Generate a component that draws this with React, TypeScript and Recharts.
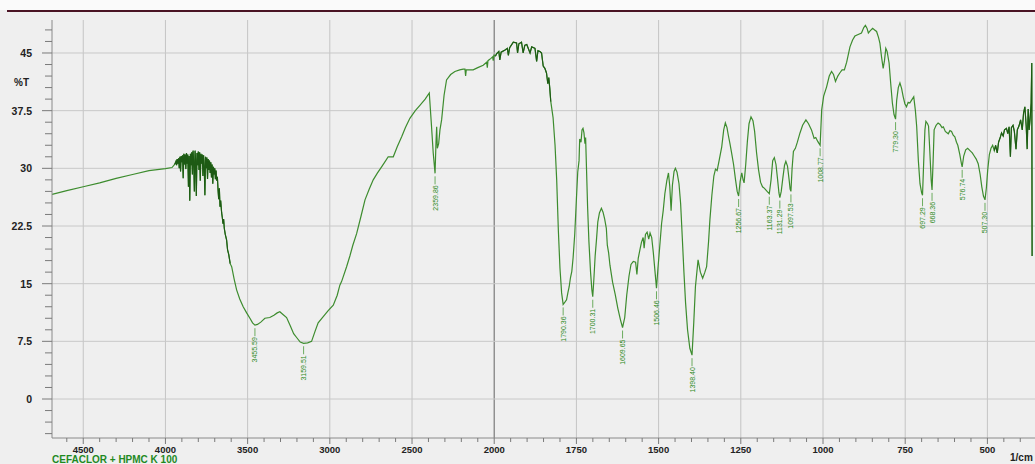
import { ComposedChart, Line, Scatter, XAxis, YAxis, ReferenceLine } from 'recharts';

type Pt = [number, number];

// wavenumber (1/cm), %T
const BASELINE: Pt[] = [
  [4690, 26.6], [4600, 27.1], [4500, 27.6], [4400, 28.1], [4300, 28.7], [4200, 29.2], [4100, 29.7],
  [4000, 29.95], [3960, 30.1], [3944, 30.5],
];

const WATER_VAPOUR: Pt[] = [
  [3940, 30.7], [3936, 30.9], [3932, 30.4], [3928, 31.2], [3924, 30.6], [3920, 31.3], [3916, 30.0],
  [3912, 31.5], [3908, 29.6], [3904, 31.6], [3900, 30.8], [3896, 31.7], [3892, 28.7], [3888, 31.9],
  [3884, 30.5], [3880, 31.8], [3876, 29.9], [3872, 32.0], [3868, 30.6], [3864, 31.8], [3860, 27.6],
  [3856, 31.6], [3852, 25.8], [3848, 31.9], [3844, 30.4], [3840, 32.1], [3836, 29.2], [3832, 32.3],
  [3828, 30.8], [3824, 27.0], [3820, 32.3], [3816, 31.0], [3812, 26.4], [3808, 32.0], [3804, 30.4],
  [3800, 32.2], [3796, 29.8], [3792, 32.1], [3788, 28.4], [3784, 31.9], [3780, 30.6], [3776, 31.8],
  [3772, 29.0], [3768, 31.7], [3764, 30.2], [3760, 26.5], [3756, 31.5], [3752, 30.0], [3748, 31.4],
  [3744, 28.6], [3740, 31.2], [3736, 29.8], [3732, 31.0], [3728, 29.4], [3724, 30.8], [3720, 28.8],
  [3716, 30.5], [3712, 28.0], [3708, 30.2], [3704, 29.2], [3700, 30.0], [3696, 28.6], [3692, 29.7],
  [3688, 28.4],
];

const OH_BAND: Pt[] = [
  [3684, 28.9], [3680, 27.2], [3676, 26.0], [3672, 27.4], [3668, 25.0], [3664, 25.8], [3658, 24.2],
  [3654, 23.6], [3650, 22.8], [3646, 23.4], [3642, 22.2], [3636, 21.4], [3628, 20.7], [3622, 19.4],
  [3615, 18.8], [3606, 17.6], [3597, 17.2], [3582, 15.6], [3567, 14.2], [3548, 13.0], [3527, 12.0],
  [3506, 11.2], [3486, 10.5], [3470, 9.9], [3455.59, 9.6], [3440, 9.7], [3420, 10.0], [3395, 10.5],
  [3365, 10.6], [3340, 10.9], [3320, 11.2], [3304, 11.35], [3285, 11.0], [3263, 10.6], [3240, 9.5],
  [3220, 8.5], [3202, 8.0], [3180, 7.4], [3159.51, 7.25], [3135, 7.3], [3111, 7.5], [3090, 8.8],
  [3071, 9.9], [3040, 10.7], [3010, 11.5], [2979, 12.2], [2955, 13.5], [2939, 14.8], [2928, 15.3],
  [2898, 17.2], [2878, 18.6], [2860, 20.0], [2837, 21.5], [2810, 23.8], [2786, 25.9], [2760, 27.3],
  [2736, 28.5], [2710, 29.4], [2685, 30.2], [2660, 31.0], [2645, 31.5], [2614, 31.5], [2590, 32.8],
  [2563, 34.1], [2540, 35.3], [2513, 36.5], [2480, 37.5], [2452, 38.2], [2420, 39.0], [2395, 39.8],
  [2383, 36.0], [2371, 32.0], [2359.86, 29.35], [2354, 33.5], [2350, 35.4], [2346, 32.6], [2338, 33.2],
  [2330, 35.0], [2320, 36.3], [2305, 39.5], [2290, 41.5], [2265, 42.2], [2239, 42.6], [2210, 42.8],
  [2189, 42.9], [2178, 42.9], [2174, 42.0], [2170, 42.8], [2128, 42.8], [2100, 43.1], [2067, 43.4],
  [2046, 43.8], [2042, 43.1], [2038, 44.0], [2020, 44.3], [2010, 44.5], [2006, 44.0], [2002, 44.7],
];

const CARBONYL: Pt[] = [
  [1996, 44.6], [1993, 44.9], [1986, 45.2], [1983, 44.1], [1979, 45.1], [1967, 45.4], [1960, 45.6],
  [1957, 44.7], [1953, 45.7], [1942, 46.4], [1932, 46.3], [1929, 45.0], [1925, 46.2], [1917, 46.4],
  [1912, 45.0], [1907, 46.0], [1901, 46.1], [1891, 45.0], [1886, 45.8], [1876, 45.6], [1871, 43.9],
  [1867, 45.3], [1861, 45.2], [1856, 45.0], [1851, 43.3], [1846, 43.0], [1841, 42.4], [1837, 41.0],
  [1834, 41.8], [1831, 40.4], [1828, 38.7], [1821, 36.6], [1815, 33.0], [1810, 28.5], [1805, 22.0],
  [1800, 17.0], [1795, 13.8], [1790.36, 12.3], [1785, 12.6], [1780, 12.9], [1776, 13.8], [1772, 14.6],
  [1768, 15.8], [1764, 16.6], [1760, 18.4], [1755, 21.5], [1750, 26.0], [1746, 29.5], [1742, 31.0],
  [1740, 33.8], [1736, 33.4], [1733, 35.0], [1730, 35.2], [1727, 34.6], [1724, 33.2], [1722, 34.0],
  [1719, 29.5], [1716, 25.0], [1712, 20.5], [1707, 16.5], [1703, 14.2], [1700.31, 13.3], [1697, 15.5],
  [1693, 18.6], [1689, 20.7], [1685, 23.0], [1680, 24.2], [1674, 24.8], [1669, 24.3], [1664, 23.4],
  [1659, 22.2], [1656, 20.0], [1652, 19.0], [1648, 17.4], [1640, 15.2], [1632, 13.6], [1624, 11.8],
  [1616, 10.3], [1609.65, 9.3], [1603, 10.6], [1597, 13.5], [1590, 16.0], [1584, 17.5], [1577, 17.9],
  [1570, 17.8], [1566, 16.2], [1562, 18.3], [1556, 19.6], [1552, 20.4], [1547, 21.0], [1544, 19.6],
  [1540, 21.4], [1535, 21.7], [1530, 20.8], [1526, 21.6], [1521, 21.0], [1516, 19.0], [1511, 16.6],
  [1506.46, 14.4], [1502, 17.0], [1497, 19.6], [1491, 22.8], [1486, 24.5], [1481, 26.7], [1475, 28.4],
  [1470, 29.4], [1466, 27.6], [1462, 24.5], [1458, 27.8], [1453, 29.6], [1449, 30.0], [1444, 29.5],
  [1438, 28.0], [1433, 25.4], [1428, 21.0], [1423, 16.5], [1418, 12.5], [1412, 9.0], [1405, 6.6],
  [1398.4, 5.7], [1393, 10.0], [1388, 14.6], [1380, 18.1], [1373, 16.5], [1366, 15.7], [1360, 16.4],
  [1354, 17.2], [1348, 20.5], [1344, 23.3], [1338, 26.5], [1332, 29.0], [1327, 29.9], [1322, 29.7],
  [1316, 31.0], [1308, 32.8], [1302, 35.0], [1297, 35.9], [1292, 35.3], [1288, 34.3], [1283, 33.2],
  [1278, 32.0], [1272, 30.5], [1266, 28.5], [1261, 27.0],
];

const FINGERPRINT: Pt[] = [
  [1256.67, 26.4], [1252, 28.3], [1247, 29.4], [1243, 28.5], [1240, 28.1], [1235, 30.5], [1230, 33.5],
  [1225, 35.8], [1219, 36.7], [1213, 36.2], [1208, 34.8], [1202, 32.0], [1196, 29.8], [1190, 28.2],
  [1184, 27.6], [1178, 27.4], [1170, 27.0], [1163.37, 26.7], [1158, 28.5], [1153, 31.0], [1148, 31.4],
  [1143, 30.5], [1138, 28.5], [1134, 26.8], [1131.29, 26.2], [1127, 27.0], [1122, 28.8], [1117, 30.4],
  [1113, 30.9], [1108, 30.3], [1103, 28.5], [1100, 27.3], [1097.53, 27.0], [1094, 30.0], [1090, 32.2],
  [1084, 32.6], [1078, 33.4], [1070, 34.6], [1062, 35.6], [1052, 36.3], [1044, 35.8], [1035, 35.0],
  [1027, 33.9], [1022, 34.0], [1016, 33.5], [1008.77, 33.0], [1004, 37.6], [998, 39.4], [989, 40.6],
  [981, 42.0], [974, 42.6], [968, 42.2], [962, 41.3], [955, 42.0], [949, 42.4], [942, 42.8], [935, 42.8],
  [928, 43.8], [918, 45.8], [910, 46.7], [903, 47.2], [893, 47.4], [883, 47.6], [876, 48.3], [871, 48.6],
  [866, 48.2], [862, 47.6], [856, 47.9], [849, 48.2], [843, 48.0], [837, 47.8], [831, 47.0], [827, 46.3],
  [822, 44.5], [817, 43.0], [813, 44.0], [809, 45.6], [805, 45.2], [799, 43.7], [794, 41.0], [789, 38.5],
  [784, 37.0], [779.3, 36.4], [776, 38.8], [771, 40.5], [766, 41.1], [761, 40.4], [756, 39.3], [751, 38.4],
  [746, 38.0], [741, 38.6], [736, 38.5], [730, 38.9], [724, 39.3], [719, 37.5], [715, 35.4], [710, 31.0],
  [705, 28.0], [700, 26.8], [697.29, 26.5], [694, 30.5], [690, 35.0], [687, 36.1], [682, 35.8], [679, 35.5],
  [676, 33.0], [671, 28.5], [668.36, 27.2], [665, 31.0], [662, 35.0], [656, 35.6], [650, 35.9], [644, 35.7],
  [638, 35.3], [634, 35.4], [628, 34.8], [622, 34.6], [619, 34.5], [614, 34.9], [609, 34.8], [604, 34.3],
  [599, 34.1], [594, 33.4], [590, 33.0], [584, 31.8], [579, 30.6], [576.74, 30.2], [572, 31.6], [566, 32.4],
  [560, 32.6], [553, 32.3], [546, 32.0], [540, 31.6], [534, 31.2], [528, 30.6], [522, 29.2], [517, 27.6],
  [512, 26.4], [507.3, 25.9], [503, 27.5], [499, 29.8], [494, 31.8], [489, 32.6], [484, 33.0], [479, 32.3],
  [475, 33.0], [470, 32.0], [466, 33.4], [461, 34.0], [457, 34.6], [452, 34.2], [448, 35.0], [442, 35.2],
  [438, 34.5], [434, 35.4], [430, 31.5], [427, 35.3], [422, 35.6], [418, 34.8], [413, 32.5], [409, 35.0],
  [404, 35.5], [399, 36.3], [394, 35.0], [390, 37.2], [386, 38.0], [382, 35.5], [379, 32.5], [376, 37.7],
  [373, 35.0], [370, 36.5], [367, 38.5], [365, 43.7], [364, 18.6],
];

const PEAK_WAVENUMBERS = [
  3455.59, 3159.51, 2359.86, 1790.36, 1700.31, 1609.65, 1506.46, 1398.4, 1256.67,
  1163.37, 1131.29, 1097.53, 1008.77, 779.3, 697.29, 668.36, 576.74, 507.3,
];
const PEAK_T = [9.6, 7.25, 29.35, 12.3, 13.3, 9.3, 14.4, 5.7, 26.4, 26.7, 26.2, 27.0, 33.0, 36.4, 26.5, 27.2, 30.2, 25.9];

const X_MAJOR = [4500, 4000, 3500, 3000, 2500, 2000, 1750, 1500, 1250, 1000, 750, 500];
const Y_MAJOR = [0, 7.5, 15, 22.5, 30, 37.5, 45];
// ranges (1/cm) where the trace is noisy and prints darker
const NOISY_RANGES: Pt[] = [[3945, 3600], [2000, 1825], [480, 363]];

// the axis is expanded x2 below 2000 1/cm
const toU = (w: number) => (w > 2000 ? 2000 + (w - 2000) / 2 : w);
const fromU = (u: number) => (u > 2000 ? 2000 + (u - 2000) * 2 : u);

const X_TICKS: number[] = [];
for (let w = 4600; w > 2000; w -= 100) X_TICKS.push(toU(w));
for (let w = 2000; w >= 350; w -= 50) X_TICKS.push(toU(w));
const Y_TICKS: number[] = [];
for (let i = -3; i <= 32; i++) Y_TICKS.push(i * 1.5);

const ALL: Pt[] = [...BASELINE, ...WATER_VAPOUR, ...OH_BAND, ...CARBONYL, ...FINGERPRINT];
const spectrum = ALL.map(([w, t]) => ({ u: toU(w), t }));
const noisy = NOISY_RANGES.map(([hi, lo]) => ALL.filter(([w]) => w <= hi && w >= lo).map(([w, t]) => ({ u: toU(w), t })));
const peaks = PEAK_WAVENUMBERS.map((w, i) => ({ u: toU(w), t: PEAK_T[i], label: w.toFixed(2) }));

const FONT = '"Liberation Sans", Arial, sans-serif';
const GREEN = '#3d8c2e';
const DARK_GREEN = '#1d5a14';

const XTick = (props: any) => {
  const { x, y, payload } = props;
  const w = fromU(payload.value);
  const major = X_MAJOR.includes(w);
  return (
    <g>
      <line x1={x} x2={x} y1={y} y2={y + (major ? 6 : 4)} stroke="#7a7a7a" />
      {major && (
        <text x={x} y={y + 11.5} textAnchor="middle" dominantBaseline="central" fontSize={9.5} fontWeight="bold" fill="#222" fontFamily={FONT}>
          {w}
        </text>
      )}
    </g>
  );
};

const YTick = (props: any) => {
  const { x, y, payload } = props;
  const v = payload.value;
  const major = Y_MAJOR.includes(v);
  return (
    <g>
      <line x1={x - (major ? 10 : 7)} x2={x} y1={y} y2={y} stroke="#7a7a7a" />
      {major && (
        <text x={x - 20} y={y} textAnchor="end" dominantBaseline="central" fontSize={10.5} fontWeight="bold" fill="#222" fontFamily={FONT}>
          {v}
        </text>
      )}
    </g>
  );
};

const PeakMark = (props: any) => {
  const { cx, cy, payload } = props;
  return (
    <g>
      <line x1={cx} x2={cx} y1={cy + 3} y2={cy + 11} stroke="#4a9a3a" strokeWidth={0.8} />
      <text
        transform={`translate(${cx},${cy + 12}) rotate(-90)`}
        textAnchor="end"
        dominantBaseline="central"
        fontSize={7}
        fill="#2e8a22"
        fontFamily={FONT}
      >
        {payload.label}
      </text>
    </g>
  );
};

const U_MIN = 340;
const U_MAX = toU(4690);
const T_MIN = -5.07;
const T_MAX = 49.29;

export default function App() {
  return (
    <div style={{ position: 'absolute', left: 0, top: 0, width: 1035, height: 464, overflow: 'hidden', background: '#efefef', fontFamily: FONT }}>
      <div style={{ position: 'absolute', left: 0, top: 0, width: 1035, height: 10, background: '#fafafa' }} />
      <div style={{ position: 'absolute', left: 7, top: 10, width: 1028, height: 1.5, background: '#4a1424' }} />
      <ComposedChart width={1042} height={464} data={spectrum} margin={{ top: 20, right: 2, bottom: 0, left: 0 }}>
        <XAxis
          dataKey="u"
          type="number"
          domain={[U_MIN, U_MAX]}
          reversed
          allowDataOverflow
          ticks={X_TICKS}
          interval={0}
          tickSize={0}
          tickMargin={0}
          tickLine={false}
          tick={XTick}
          axisLine={{ stroke: '#8a8a8a' }}
          height={26}
        />
        <XAxis xAxisId="top" orientation="top" type="number" domain={[U_MIN, U_MAX]} reversed tick={false} tickLine={false} axisLine={{ stroke: '#9a9a9a' }} height={0} />
        <YAxis
          type="number"
          domain={[T_MIN, T_MAX]}
          allowDataOverflow
          ticks={Y_TICKS}
          interval={0}
          tickSize={0}
          tickMargin={0}
          tickLine={false}
          tick={YTick}
          axisLine={{ stroke: '#8a8a8a' }}
          width={52}
        />
        {X_MAJOR.map((w) => (
          <ReferenceLine key={'x' + w} x={toU(w)} stroke={w === 2000 ? '#7a7a7a' : '#c4c4c4'} strokeWidth={w === 2000 ? 1.2 : 1} />
        ))}
        {Y_MAJOR.map((v) => (
          <ReferenceLine key={'y' + v} y={v} stroke="#c8c8c8" />
        ))}
        <Line type="linear" dataKey="t" stroke={GREEN} strokeWidth={1.2} dot={false} isAnimationActive={false} />
        {noisy.map((seg, i) => (
          <Line key={'n' + i} data={seg} type="linear" dataKey="t" stroke={DARK_GREEN} strokeWidth={1.1} dot={false} isAnimationActive={false} />
        ))}
        <Scatter data={peaks} dataKey="t" shape={PeakMark} isAnimationActive={false} />
      </ComposedChart>
      <div style={{ position: 'absolute', left: 14, top: 77, fontSize: 10, fontWeight: 'bold', color: '#222' }}>%T</div>
      <div style={{ position: 'absolute', left: 52, top: 456, fontSize: 10, fontWeight: 'bold', color: '#1f8a1f', whiteSpace: 'nowrap', lineHeight: '8px' }}>
        CEFACLOR + HPMC K 100
      </div>
      <div style={{ position: 'absolute', left: 1010, top: 453, fontSize: 10, fontWeight: 'bold', color: '#222', lineHeight: '10px' }}>1/cm</div>
    </div>
  );
}
